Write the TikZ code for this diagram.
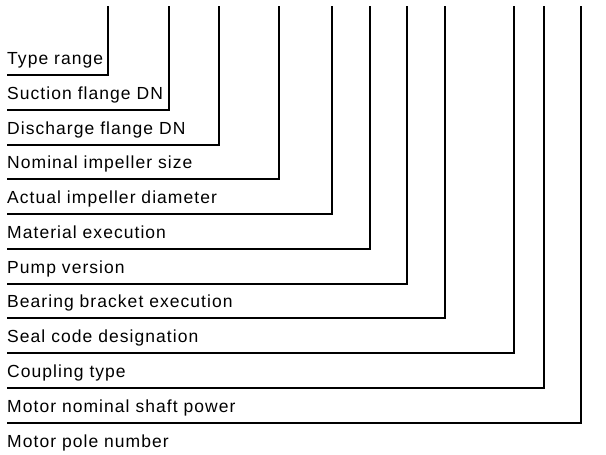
\documentclass[tikz,border=0pt]{standalone}
\usepackage{fontspec}
\setmainfont{Liberation Sans}[LetterSpace=6]
\usepackage{tikz}

\tikzset{
	codelabel/.style={anchor=base west, inner sep=0pt, font=\fontsize{17.5}{20}\selectfont},
	codeline/.style={line width=0.7mm, color=black}
}

\begin{document}
\begin{tikzpicture}[x=1pt, y=-1pt]
			%%%%% START %%%%%
			\useasboundingbox (0, 0) rectangle (606, 455);
			
			% upper ends of the leaders
			\coordinate (top1) at (108, 6);
			\coordinate (top2) at (169, 6);
			\coordinate (top3) at (219, 6);
			\coordinate (top4) at (279, 6);
			\coordinate (top5) at (332, 6);
			\coordinate (top6) at (370, 6);
			\coordinate (top7) at (407, 6);
			\coordinate (top8) at (445, 6);
			\coordinate (top9) at (514, 6);
			\coordinate (top10) at (544, 6);
			\coordinate (top11) at (581, 6);
			
			% labels
			\node[codelabel] (typerange) at (7, 64) {Type range};
			\node[codelabel] (suction) at (7, 99) {Suction flange DN};
			\node[codelabel] (discharge) at (7, 134) {Discharge flange DN};
			\node[codelabel] (nominal) at (7, 168) {Nominal impeller size};
			\node[codelabel] (actual) at (7, 203) {Actual impeller diameter};
			\node[codelabel] (material) at (7, 238) {Material execution};
			\node[codelabel] (pumpversion) at (7, 273) {Pump version};
			\node[codelabel] (bearing) at (7, 307) {Bearing bracket execution};
			\node[codelabel] (seal) at (7, 342) {Seal code designation};
			\node[codelabel] (coupling) at (7, 377) {Coupling type};
			\node[codelabel] (motorpower) at (7, 412) {Motor nominal shaft power};
			\node[codelabel] (motorpole) at (7, 447) {Motor pole number};
			
			% leaders
			\draw[codeline] ([yshift=-11pt]typerange.base west) -| (top1);
			\draw[codeline] ([yshift=-11pt]suction.base west) -| (top2);
			\draw[codeline] ([yshift=-11pt]discharge.base west) -| (top3);
			\draw[codeline] ([yshift=-11pt]nominal.base west) -| (top4);
			\draw[codeline] ([yshift=-11pt]actual.base west) -| (top5);
			\draw[codeline] ([yshift=-11pt]material.base west) -| (top6);
			\draw[codeline] ([yshift=-11pt]pumpversion.base west) -| (top7);
			\draw[codeline] ([yshift=-11pt]bearing.base west) -| (top8);
			\draw[codeline] ([yshift=-11pt]seal.base west) -| (top9);
			\draw[codeline] ([yshift=-11pt]coupling.base west) -| (top10);
			\draw[codeline] ([yshift=-11pt]motorpower.base west) -| (top11);
			
			%%%%% END %%%%%
\end{tikzpicture}
\end{document}
